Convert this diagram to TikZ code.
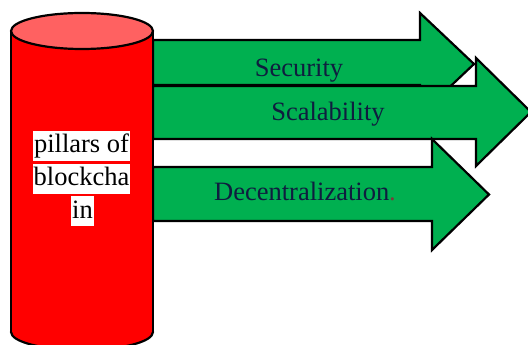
\documentclass[tikz,border=0pt]{standalone}
\usepackage{fontspec}
\setmainfont{Liberation Serif}
\definecolor{cylred}{HTML}{FF0000}
\definecolor{cyltop}{HTML}{FF6161}
\definecolor{arrgreen}{HTML}{00B050}
\definecolor{navytext}{HTML}{0F1D3F}
\definecolor{dotred}{HTML}{7B3A3A}
\tikzset{
  outline/.style={draw=black, line width=2.2pt, line join=miter},
  bigarrow/.style={outline, fill=arrgreen},
  label/.style={font=\fontsize{26.5}{30}\selectfont, text=navytext, inner sep=0pt},
  hilite/.style={font=\fontsize{26.5}{30}\selectfont, text=black, fill=white,
    inner xsep=1pt, inner ysep=2pt, text height=20pt, text depth=6pt}
}
\begin{document}
\begin{tikzpicture}[x=1pt, y=-1pt]
\useasboundingbox (0,0) rectangle (528,345);
\clip (0,0) rectangle (528,345);

% Security arrow
\draw[bigarrow] (153,40) -- (420,40) -- (420,13) -- (474,64) -- (420,115)
  -- (420,85) -- (153,85) -- cycle;
% Scalability arrow
\draw[bigarrow] (153,86) -- (476,86) -- (476,58) -- (531,112) -- (476,166)
  -- (476,139) -- (153,139) -- cycle;
% Decentralization arrow
\draw[bigarrow] (153,167) -- (432,167) -- (432,139) -- (489,194.5) -- (432,250)
  -- (432,221) -- (153,221) -- cycle;

% Cylinder: bottom cap, body, top cap
\draw[outline, fill=cylred] (82,332) ellipse [x radius=71, y radius=18];
\fill[cylred] (11,31) rectangle (153,332);
\draw[outline] (11,31) -- (11,332);
\draw[outline] (153,31) -- (153,332);
\draw[outline, fill=cyltop] (82,31) ellipse [x radius=71, y radius=18];

% Cylinder caption, one highlighted line at a time
\node[hilite] (cap1) at (81.5,146) {pillars of};
\node[hilite] (cap2) at (81.5,178.5) {blockcha};
\node[hilite] (cap3) at (82.5,211) {in};

% Arrow labels
\node[label] (sec) at (299,70.5) {Security};
\node[label] (sca) at (328,114) {Scalability};
\node[label] (dec) at (305,191) {Decentralization\textcolor{dotred}{.}};
\end{tikzpicture}
\end{document}
